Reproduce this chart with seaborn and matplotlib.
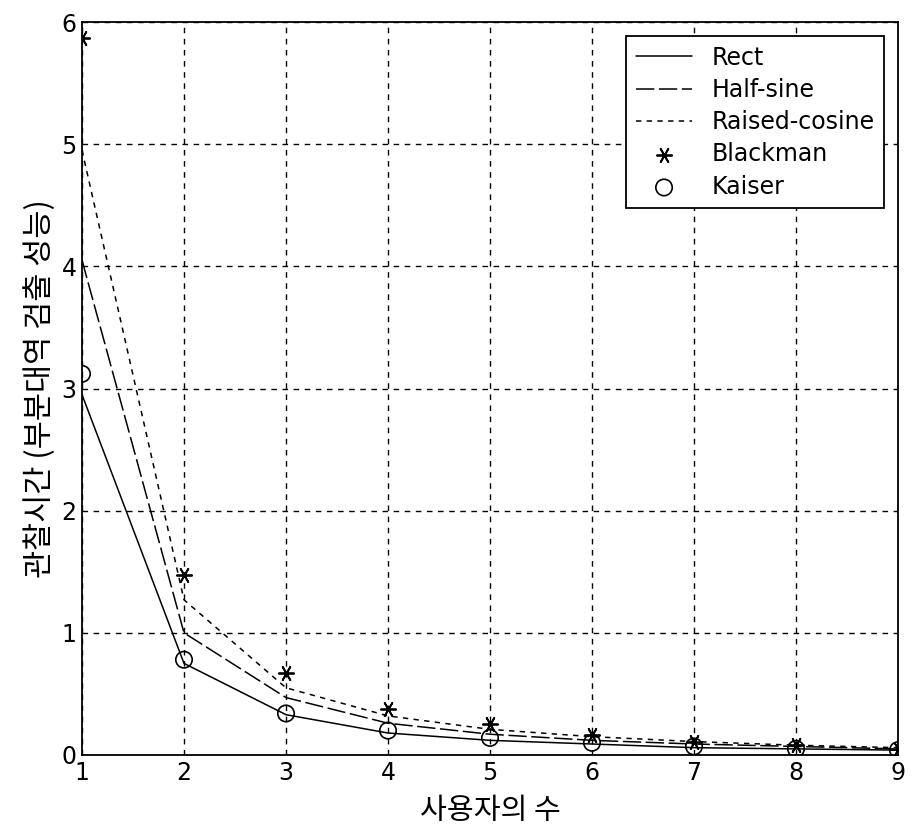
import numpy as np
import pandas as pd
import seaborn as sns
from matplotlib import pyplot as plt

users = [1, 2, 3, 4, 5, 6, 7, 8, 9]
rect = [2.95, 0.75, 0.33, 0.18, 0.12, 0.09, 0.06, 0.05, 0.04]
half_sine = [4.05, 1.00, 0.47, 0.26, 0.17, 0.12, 0.09, 0.07, 0.05]
raised_cosine = [4.95, 1.27, 0.55, 0.32, 0.21, 0.15, 0.11, 0.08, 0.06]
blackman = [5.87, 1.47, 0.67, 0.38, 0.25, 0.16, 0.11, 0.08, 0.05]
kaiser = [3.12, 0.78, 0.34, 0.20, 0.14, 0.10, 0.07, 0.05, 0.04]

xlabel = "사용자의 수"
ylabel = "관찰시간 (부분대역 검출 성능)"

sns.set_theme(style="white")
plt.rcParams['font.family'] = ['DejaVu Sans', 'Noto Sans CJK KR']
plt.rcParams['text.color'] = 'black'
plt.rcParams['axes.labelcolor'] = 'black'
plt.rcParams['xtick.color'] = 'black'
plt.rcParams['ytick.color'] = 'black'

fig = plt.figure(figsize=(9.15, 8.33), dpi=100)
ax = fig.add_axes([82 / 915, 1 - 755 / 833, (898 - 82) / 915, (755 - 22) / 833])

sns.lineplot(x=users, y=rect, ax=ax, color="black", lw=1.1, label="Rect")
sns.lineplot(x=users, y=half_sine, ax=ax, color="black", lw=1.1, dashes=(12, 3), label="Half-sine")
sns.lineplot(x=users, y=raised_cosine, ax=ax, color="black", lw=1.1, dashes=(3.5, 3.5), label="Raised-cosine")
sns.scatterplot(x=users, y=blackman, ax=ax, color="black", marker=(6, 2, 90), s=120, linewidth=1.3, label="Blackman", zorder=5)
sns.scatterplot(x=users, y=kaiser, ax=ax, facecolor="none", edgecolor="black", marker="o", s=140, linewidth=1.2, label="Kaiser", zorder=5)

ax.set_xlim(1, 9)
ax.set_ylim(0, 6)
ax.set_xticks(users)
ax.set_yticks(range(0, 7))
ax.grid(True, color="black", linestyle=(0, (4, 4)), linewidth=1.0)
for s in ax.spines.values():
    s.set_color("black")
    s.set_linewidth(1.3)
ax.tick_params(direction="in", length=6, color="black", labelsize=17, pad=4)

ax.set_xlabel(xlabel, fontsize=21, family=['Noto Sans CJK KR', 'DejaVu Sans'], labelpad=8)
ax.set_ylabel(ylabel, fontsize=22, family=['Noto Sans CJK KR', 'DejaVu Sans'], labelpad=4)

leg = ax.legend(loc="upper right", fontsize=17, frameon=True, fancybox=False, framealpha=1,
                edgecolor="black", handlelength=2.4, borderaxespad=0.6, labelspacing=0.35)
leg.get_frame().set_linewidth(1.3)

fig.savefig("out.png", dpi=100)
